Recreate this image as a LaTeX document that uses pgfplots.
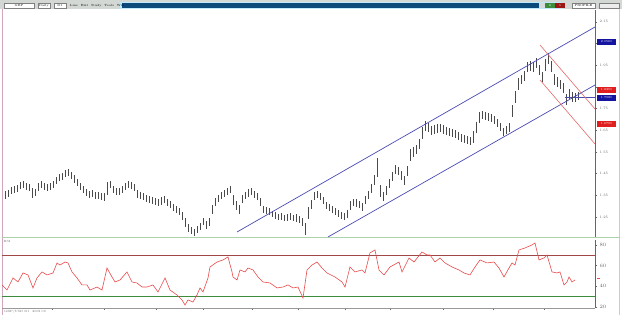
\documentclass[border=0pt]{standalone}
\usepackage{pgfplots}
\pgfplotsset{compat=1.18}
\usepackage{pgfplotstable}
\definecolor{barc}{HTML}{4A4A4A}
\definecolor{chblue}{HTML}{4B4BB4}
\definecolor{chred}{HTML}{E66A6A}
\definecolor{rsired}{HTML}{E84A4A}
\definecolor{obline}{HTML}{A04848}
\definecolor{osline}{HTML}{3C8C3C}
\definecolor{tbgray}{HTML}{D4D8D4}
\definecolor{tbblue}{HTML}{0C4A7C}
\definecolor{boxblue}{HTML}{1414A0}
\definecolor{boxred}{HTML}{E02020}
\pgfdeclareplotmark{ctick}{\pgfpathmoveto{\pgfpointorigin}\pgfpathlineto{\pgfpoint{1.3pt}{0pt}}\pgfusepathqstroke}
\pgfplotstableread{
x h l c
5 124 116 120
8 125 118 122
11 128 121 124
14 129 122 125
17 130 123 127
20 133 126 129
23 134 127 130
26 132 125 129
29 131 124 128
32 127 117 121
35 126 119 123
38 132 124 128
41 134 127 130
44 132 125 129
47 131 124 128
50 132 125 128
53 134 127 131
56 138 131 134
59 141 134 137
62 142 135 139
65 145 138 141
68 146 139 142
71 143 136 139
74 140 132 136
77 136 129 132
80 132 125 128
83 129 122 125
86 126 119 123
89 124 117 120
92 125 118 121
95 123 116 120
98 123 116 119
101 122 115 119
104 122 114 118
107 133 120 129
110 134 127 130
113 129 122 125
116 127 120 124
119 127 120 123
122 129 122 125
125 132 125 128
128 134 127 130
131 133 126 129
134 131 124 127
137 125 117 120
140 123 116 119
143 122 115 118
146 120 113 117
149 119 112 115
152 118 111 114
155 117 110 113
158 116 109 112
161 118 110 114
164 119 112 115
167 116 109 112
170 114 107 110
173 111 104 107
176 109 102 105
179 107 100 103
182 103 95 98
185 97 88 91
188 91 83 86
191 88 81 84
194 86 79 82
197 89 82 85
200 92 85 88
203 97 90 93
206 94 86 89
209 97 89 93
212 110 101 105
215 117 109 113
218 120 113 116
221 123 116 119
224 125 118 121
227 127 120 123
230 129 122 125
233 120 110 115
236 114 105 109
239 110 101 105
242 120 112 116
245 123 116 119
248 126 118 122
251 127 120 123
254 124 117 120
257 122 115 118
260 117 109 112
263 109 102 105
266 108 101 104
269 107 100 103
272 104 98 101
275 103 96 99
278 101 95 98
281 102 95 98
284 100 94 97
287 101 94 97
290 102 95 98
293 100 94 97
296 101 93 97
299 99 92 95
302 97 89 93
305 92 80 84
308 108 96 103
311 115 106 111
314 123 115 119
317 124 117 120
320 122 115 118
323 118 111 114
326 113 106 109
329 111 104 107
332 109 102 105
335 107 100 103
338 105 98 101
341 103 96 99
344 102 95 98
347 105 97 101
350 114 105 109
353 116 109 112
356 116 108 112
359 114 107 110
362 112 104 108
365 119 111 115
368 124 116 120
371 131 122 126
374 140 130 135
377 157 138 143
380 130 118 122
383 123 114 118
386 129 120 124
389 136 127 131
392 143 134 138
395 150 141 145
398 148 140 144
401 144 135 139
404 139 130 134
407 149 139 144
410 166 154 160
413 168 158 163
416 170 161 165
419 176 166 171
422 188 176 182
425 194 184 189
428 192 183 187
431 189 180 184
434 190 181 185
437 191 182 186
440 191 183 187
443 190 181 186
446 188 180 184
449 187 179 183
452 186 178 182
455 185 177 181
458 183 175 179
461 181 173 177
464 180 172 176
467 179 171 175
470 178 170 174
473 184 172 179
476 193 182 188
479 203 192 198
482 204 196 200
485 203 195 199
488 202 194 198
491 201 193 197
494 199 191 195
497 196 188 192
500 192 184 188
503 187 179 183
506 189 181 185
509 192 183 187
512 210 198 203
515 224 212 218
518 237 225 231
521 240 231 235
524 244 234 239
527 253 243 248
530 254 244 249
533 253 243 248
536 257 247 252
539 250 240 245
542 243 233 237
545 256 244 250
548 262 251 257
551 254 243 248
554 241 230 235
557 238 228 233
560 235 226 230
563 232 222 227
566 221 210 215
569 226 216 221
572 223 213 218
575 222 213 217
578 223 215 219
}\bars
\pgfplotstableread{
x r
2 41.3
7 36.4
13 48.1
18 44.2
23 52.9
28 51.0
33 38.4
37 48.1
42 53.9
47 51.0
53 52.9
57 62.6
60 60.6
65 63.5
68 62.6
72 53.9
77 48.1
82 41.3
87 41.3
90 36.4
97 39.3
102 36.4
107 57.7
112 49.0
115 44.2
120 46.1
127 53.9
132 44.2
137 43.2
142 39.3
147 39.3
153 41.3
158 34.5
165 48.1
170 36.4
177 31.6
182 26.8
185 21.9
188 26.8
193 24.8
197 31.6
200 38.4
203 34.5
208 48.1
210 58.7
217 63.5
223 65.5
228 68.4
232 53.9
233 49.0
237 46.1
240 55.8
245 53.9
248 57.7
253 55.8
258 49.0
263 44.2
270 43.2
277 38.4
283 39.3
288 41.3
293 38.4
298 39.3
303 28.7
307 55.8
312 60.6
317 63.5
322 57.7
327 52.9
335 49.0
342 44.2
345 39.3
350 58.7
355 53.9
362 55.8
365 52.9
370 72.3
375 75.2
379 55.8
384 51.0
390 58.7
399 63.5
402 53.9
409 67.4
414 63.5
422 73.2
427 70.3
430 70.3
435 63.5
440 67.4
445 62.6
452 58.7
459 55.8
464 52.9
470 51.0
475 58.7
480 65.5
487 62.6
494 63.5
499 57.7
504 49.0
509 57.7
512 62.6
515 60.6
519 75.2
525 77.1
532 80.0
535 81.9
539 65.5
544 67.4
547 70.3
552 53.9
557 52.9
560 53.9
564 41.3
567 44.2
569 49.0
572 44.2
575 46.1
}\rsi
\begin{document}
\begin{tikzpicture}[x=1pt,y=1pt]
\fill[white] (0,0) rectangle (624,315);
% toolbar
\fill[tbgray] (0,306) rectangle (622,315);
\fill[cyan!25] (120,306.3) rectangle (562,313);
\fill[tbblue] (122,307) rectangle (560,312.2);
\foreach \a/\b/\t in {4/34/GBP/USD,38/50/Daily,54/66/D1}{
  \draw[gray,fill=white,line width=0.2pt] (\a,307.3) rectangle (\b,312);
  \node[font=\fontsize{3}{3}\selectfont,inner sep=0pt] at ({(\a+\b)/2},309.6) {\t};}
\node[font=\fontsize{3}{3}\selectfont,inner sep=0pt,anchor=west] at (70,309.6) {Line \ Hist \ Study \ Tools \ Win};
\fill[gray!30] (539,307.3) rectangle (545,312);
\fill[osline] (545,307.3) rectangle (555,312);
\fill[boxred!70!black] (555,307.3) rectangle (565,312);
\node[font=\fontsize{2.5}{3}\selectfont,inner sep=0pt,white] at (550,309.6) {B};
\node[font=\fontsize{2.5}{3}\selectfont,inner sep=0pt,white] at (560,309.6) {S};
\draw[gray,fill=white,line width=0.2pt] (572,307.3) rectangle (595,312);
\node[font=\fontsize{3}{3}\selectfont,inner sep=0pt] at (583.5,309.6) {PROFILE};
\draw[gray,fill=gray!15,line width=0.2pt] (599,307.3) rectangle (619,312);
% frame lines
\draw[line width=0.6pt,color=magenta!35!gray!60] (2,0) -- (2,306);
\draw[line width=0.6pt,color=gray!40] (619.5,0) -- (619.5,306);
\draw[line width=0.7pt,color=green!30!gray!50] (2,77.5) -- (620,77.5);
% price panel
\begin{axis}[at={(2pt,78pt)}, anchor=south west, scale only axis,
  width=593pt, height=227pt, xmin=2, xmax=595, ymin=78, ymax=305,
  axis x line=none, axis y line*=right,
  y axis line style={line width=0.6pt, color=gray!80!black, -},
  ytick={98,119.7,141.4,163.1,184.8,206.5,228.2,249.9,271.6,293.3},
  yticklabels={1.25,1.35,1.45,1.55,1.65,1.75,,1.95,,2.15},
  minor y tick num=1,
  tick align=outside, major tick length=2pt, minor tick length=1.2pt,
  tick style={color=gray!80!black, line width=0.3pt},
  yticklabel style={font=\fontsize{3.5}{4}\selectfont, color=gray!80!black, xshift=-1pt},
  clip=true]
\addplot[only marks, mark=ctick, mark options={line width=0.5pt, color=barc},
  error bars/.cd, y dir=both, y explicit, error mark=none,
  error bar style={line width=0.5pt, color=barc}]
  table[x=x, y=c, y error plus expr={\thisrow{h}-\thisrow{c}}, y error minus expr={\thisrow{c}-\thisrow{l}}] {\bars};
\addplot[chblue, line width=0.7pt] coordinates {(237,83) (595,288)};
\addplot[chblue, line width=0.7pt] coordinates {(328,78) (595,230)};
\addplot[chblue, line width=0.7pt] coordinates {(565,218) (595,218)};
\addplot[chred, line width=0.6pt] coordinates {(540,270) (595,206)};
\addplot[chred, line width=0.6pt] coordinates {(540,235) (595,171)};
\end{axis}
% RSI panel
\begin{axis}[at={(2pt,7pt)}, anchor=south west, scale only axis,
  width=593pt, height=68pt, xmin=2, xmax=595, ymin=19, ymax=84.8,
  axis x line*=bottom, axis y line*=right,
  x axis line style={line width=0.5pt, color=gray!80, -},
  y axis line style={line width=0.6pt, color=gray!80!black, -},
  xtick={52,104,156,203,252,298,345,390,443,493,544}, xticklabels={},
  ytick={20,40,60,80}, minor y tick num=1,
  tick align=outside, major tick length=2pt, minor tick length=1.2pt,
  tick style={color=gray!80!black, line width=0.3pt},
  yticklabel style={font=\fontsize{3.5}{4}\selectfont, color=gray!80!black, xshift=-1pt},
  clip=true]
\addplot[obline, line width=0.6pt] coordinates {(2,70) (595,70)};
\addplot[osline, line width=0.6pt] coordinates {(2,30) (595,30)};
\addplot[rsired, line width=0.6pt] table[x=x, y=r] {\rsi};
\end{axis}
% right-axis value boxes
\fill[boxblue] (597,270) rectangle (616,276);
\fill[boxred] (597,222) rectangle (616,228);
\fill[boxblue] (597,214) rectangle (616,220);
\fill[boxred] (597,188) rectangle (616,194);
\foreach \yy/\t in {273/2.0560,225/1.8350,217/1.7980,191/1.6790}{
  \node[font=\fontsize{3}{3}\selectfont,inner sep=0pt,white] at (606.5,\yy) {\t};}
\fill[rsired] (597,35.5) rectangle (599.5,36.6);
\node[font=\fontsize{3}{3}\selectfont,inner sep=0pt,anchor=north west,color=gray!80!black] at (3.5,74.5) {RSI};
\node[font=\fontsize{3}{3}\selectfont,inner sep=0pt,anchor=west,color=gray!80!black] at (4,3.5) {GBP/USD D1 \ 2008.09};
\pgfresetboundingbox
\path[use as bounding box] (0,0) rectangle (624,315);
\end{tikzpicture}
\end{document}
